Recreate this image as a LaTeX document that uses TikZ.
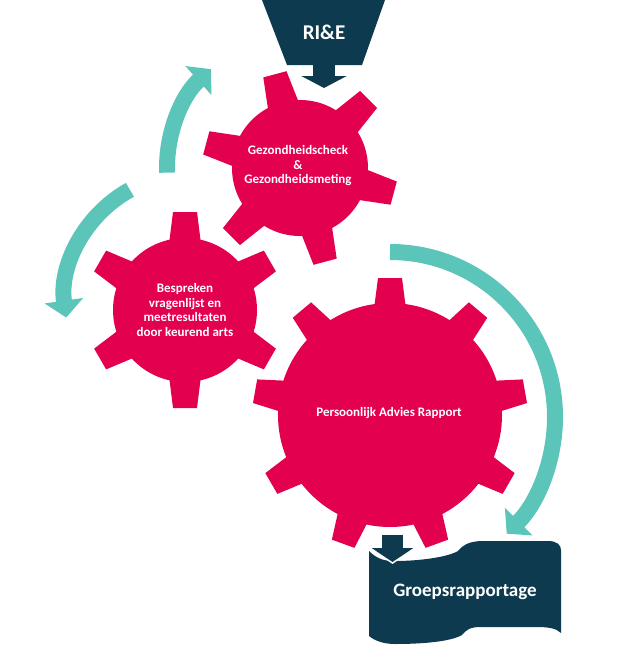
\documentclass[tikz,border=0pt]{standalone}
\usepackage{fontspec}
\setmainfont{Carlito}
\usetikzlibrary{positioning, calc, arrows.meta}
\definecolor{Gear}{HTML}{E2004F}
\definecolor{Navy}{HTML}{0E3A4F}
\definecolor{Teal}{HTML}{5CC5BA}
\definecolor{White}{HTML}{FFFFFF}
\tikzset{
    geartext/.style={text=White, align=center, font=\bfseries\fontsize{13}{14.5}\selectfont},
    boxtext/.style={text=White, inner sep=0pt, font=\bfseries\fontsize{19}{21}\selectfont},
    cyclearrow/.style={line width=16pt, color=Teal, -{Triangle[length=17pt, width=38pt]}},
    downarrow/.style={line width=22pt, color=Navy, -{Triangle[length=12pt, width=45pt]}},
}
% gear: centre, body radius, tip radius, number of teeth, first tooth angle
\newcommand{\gearshape}[5]{%
    \fill[Gear] (#1) circle (#2);
    \foreach \k in {1,...,#4}{
        \fill[Gear, shift={(#1)}, rotate={#5+360*\k/#4}]
            (#2-6,-16) -- (#3,-12) -- (#3,12) -- (#2-6,16) -- cycle;
    }%
}

\begin{document}
\begin{tikzpicture}[x=1pt, y=1pt]
    \useasboundingbox (0,0) rectangle (640,-645);
    \coordinate (topc) at (300,-168);
    \coordinate (leftc) at (185,-310);
    \coordinate (bigc) at (390,-415);

    % gears
    \gearshape{leftc}{72}{98}{6}{90}
    \gearshape{topc}{68}{97}{6}{105}
    \gearshape{bigc}{112}{137}{9}{90}
    \node[geartext] (check) at (298,-166) {Gezondheidscheck\\\&\\Gezondheidsmeting};
    \node[geartext] (bespreken) at (185,-310) {Bespreken\\vragenlijst en\\meetresultaten\\door keurend arts};
    \node[geartext] (advies) at (389,-413) {Persoonlijk Advies Rapport};

    % cycle arrows
    \draw[cyclearrow] ($(topc)+(182:133)$) arc[start angle=182, end angle=132, radius=133];
    \draw[cyclearrow] ($(leftc)+(6,10)+(119:126)$) arc[start angle=119, end angle=188, radius=126];
    \draw[cyclearrow] ($(bigc)+(0,-2)+(90:165)$) arc[start angle=90, end angle=-45, radius=165];

    % RI&E funnel
    \fill[Navy] (262,0) -- (385,0) -- (362,-65) -- (287,-65) -- cycle;
    \node[boxtext, font=\bfseries\fontsize{21}{23}\selectfont, minimum height=65pt] (rie) at (324,-32.5) {RI\&E};
    \coordinate (topin) at (324,-88);
    \draw[downarrow] (rie.south) -- (topin);

    % Groepsrapportage
    \fill[Navy] (369,-551) .. controls (378,-560) and (386,-561) .. (395,-561)
        .. controls (420,-561) and (448,-557) .. (458,-551)
        .. controls (463,-545) and (468,-542) .. (480,-541)
        -- (548,-541) .. controls (557,-541) and (561,-545) .. (561,-550)
        -- (561,-633) .. controls (556,-628) and (548,-627) .. (535,-627)
        -- (480,-627) .. controls (470,-627) and (466,-630) .. (462,-635)
        .. controls (450,-642) and (420,-644) .. (395,-644)
        .. controls (384,-644) and (375,-641) .. (369,-636) -- cycle;
    \node[boxtext] (groep) at (465,-592) {Groepsrapportage};
    \coordinate (bigout) at (392.5,-535);
    \coordinate (groepin) at (392.5,-562);
    \draw[downarrow, color=White, line width=23pt, -{Triangle[length=16pt, width=45pt]}] (bigout) -- ($(groepin)+(0,-2)$);
    \draw[downarrow, line width=21pt, -{Triangle[length=14pt, width=41pt]}] (bigout) -- (groepin);
\end{tikzpicture}
\end{document}
